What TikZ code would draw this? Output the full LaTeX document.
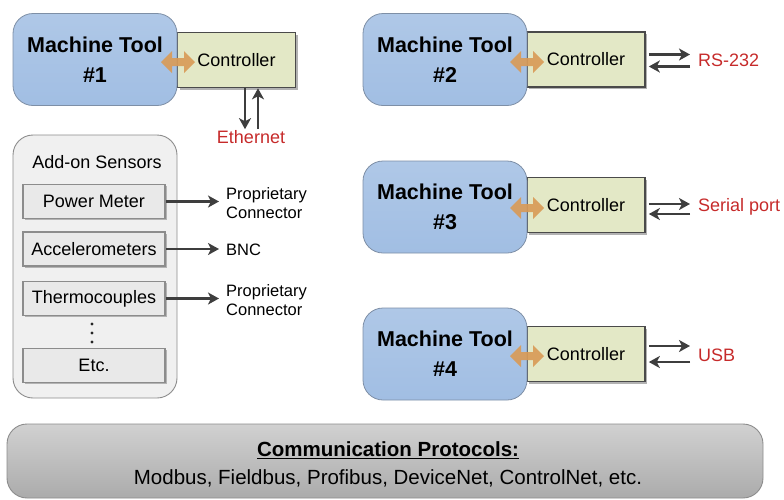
\documentclass[tikz,border=0pt]{standalone}
\usepackage{fontspec}
\setmainfont{Liberation Sans}
\usetikzlibrary{arrows.meta,shadows,calc}

\definecolor{toolfill}{HTML}{A1BEE3}
\definecolor{tooldraw}{HTML}{7E8FA6}
\definecolor{ctrlfill}{HTML}{E3E8C6}
\definecolor{ctrldraw}{HTML}{4A4A4A}
\definecolor{linkorange}{HTML}{D99A55}
\definecolor{portred}{HTML}{C62A2A}
\definecolor{arrowgray}{HTML}{3E3E3E}
\definecolor{sensorfill}{HTML}{F0F0F0}
\definecolor{sensorbox}{HTML}{E9E9E9}
\definecolor{sensordraw}{HTML}{8C8C8C}

\tikzset{
  tool/.style={draw=tooldraw, line width=0.8pt, top color=toolfill!85!white, bottom color=toolfill,
    rounded corners=20pt, minimum width=164pt, minimum height=92pt, inner sep=0pt,
    align=center, font=\fontsize{21.5}{30}\selectfont\bfseries, text=black},
  ctrl/.style={draw=ctrldraw, line width=1.6pt, fill=ctrlfill, minimum width=118pt,
    minimum height=55pt, inner sep=0pt, font=\fontsize{18}{20}\selectfont,
    drop shadow={shadow xshift=2pt, shadow yshift=-2pt, opacity=0.3, fill=black}},
  sensor/.style={draw=sensordraw, line width=1.8pt, fill=sensorbox, minimum width=142pt,
    minimum height=34pt, inner sep=0pt, font=\fontsize{18}{20}\selectfont,
    drop shadow={shadow xshift=1.5pt, shadow yshift=-1.5pt, opacity=0.25, fill=black}},
  port/.style={text=portred, font=\fontsize{18}{20}\selectfont, anchor=west, inner sep=0pt},
  conn/.style={font=\fontsize{16.5}{20}\selectfont, anchor=west, inner sep=0pt, align=left},
  link/.style={draw=arrowgray, line width=2.4pt, -{Stealth[length=11pt,width=12pt,inset=3pt]}},
  linkshape/.style={fill=linkorange, opacity=0.9, draw=none}
}

% orange double arrow centred at a given point
\newcommand{\biarrow}[1]{%
  \fill[linkshape, shift={(#1)}] (-17,0) -- (-6,-11) -- (-6,-4) -- (6,-4) -- (6,-11) -- (17,0)
    -- (6,11) -- (6,4) -- (-6,4) -- (-6,11) -- cycle;}

\begin{document}
\begin{tikzpicture}[x=1pt,y=-1pt]
\useasboundingbox (0,0) rectangle (784,499);

% ---- machine tools with their controllers ----
\node[ctrl] (c1) at (236.5,60) {Controller};
\node[tool] (m1) at (95,59.5) {Machine Tool\\\#1};
\biarrow{178,62}

\node[ctrl] (c2) at (586,59.5) {Controller};
\node[tool] (m2) at (445,59.5) {Machine Tool\\\#2};
\biarrow{527,62}

\node[ctrl] (c3) at (586,205) {Controller};
\node[tool] (m3) at (445,207) {Machine Tool\\\#3};
\biarrow{527,208}

\node[ctrl] (c4) at (586,354) {Controller};
\node[tool] (m4) at (445,354) {Machine Tool\\\#4};
\biarrow{527,356}

% ---- Ethernet on controller 1 ----
\node[text=portred, font=\fontsize{18}{20}\selectfont, inner sep=0pt] (eth) at (251,137) {Ethernet};
\coordinate (e1a) at ($(c1.south)+(8.5,0)$);
\coordinate (e1b) at ($(c1.south)+(21.5,0)$);
\draw[link] (e1a) -- ($(e1a |- eth.north)+(0,-1)$);
\draw[link] ($(e1b |- eth.north)+(0,-1)$) -- (e1b);

% ---- serial links of controllers 2 to 4 ----
\node[port] (rs) at (698,60) {RS-232};
\node[port] (sp) at (698,207) {Serial port};
\node[port] (usb) at (698,355) {USB};
\foreach \c/\p/\up/\dn in {c2/rs/-5/7, c3/sp/-1/9, c4/usb/-8/8}{
  \coordinate (\c o) at ($(\c.east)+(3,\up)$);
  \coordinate (\c i) at ($(\c.east)+(3,\dn)$);
  \draw[link] (\c o) -- ($(\p.west |- \c o)+(-8,0)$);
  \draw[link] ($(\p.west |- \c i)+(-8,0)$) -- (\c i);
}

% ---- add-on sensors ----
\node[draw=sensordraw, line width=0.9pt, fill=sensorfill, rounded corners=20pt,
  minimum width=164pt, minimum height=263pt, inner sep=0pt] (sens) at (95,266.5) {};
\node[font=\fontsize{18}{20}\selectfont, inner sep=0pt] (senst) at (97,162) {Add-on Sensors};
\node[sensor] (pm) at (94,201.5) {Power Meter};
\node[sensor] (acc) at (94,249) {Accelerometers};
\node[sensor] (th) at (94,298.5) {Thermocouples};
\node[sensor] (etc) at (94,365.5) {Etc.};
% vertical ellipsis between the last two sensors
\foreach \yy in {324,333,342}{
  \fill[black!85] (92,\yy) circle (1.7pt);
}

\node[conn] (pc1) at (226,203) {Proprietary\\[-1pt]Connector};
\node[conn] (bnc) at (226,250) {BNC};
\node[conn] (pc2) at (226,300) {Proprietary\\[-1pt]Connector};
\draw[link] (pm.east) -- ($(pc1.west |- pm.east)+(-7,0)$);
\draw[link] (acc.east) -- ($(bnc.west |- acc.east)+(-7,0)$);
\draw[link] (th.east) -- ($(pc2.west |- th.east)+(-7,0)$);

% ---- communication protocols ----
\node[draw=sensordraw, line width=0.9pt, top color=black!18, bottom color=black!33,
  rounded corners=20pt, minimum width=756pt, minimum height=74pt, inner sep=0pt] (proto) at (385,461) {};
\node[font=\fontsize{20.5}{22}\selectfont\bfseries, inner sep=0pt] (protot) at (388,450) {\underline{Communication Protocols:}};
\node[font=\fontsize{20.5}{22}\selectfont, inner sep=0pt] (protol) at (388,478) {Modbus, Fieldbus, Profibus, DeviceNet, ControlNet, etc.};
\end{tikzpicture}
\end{document}
